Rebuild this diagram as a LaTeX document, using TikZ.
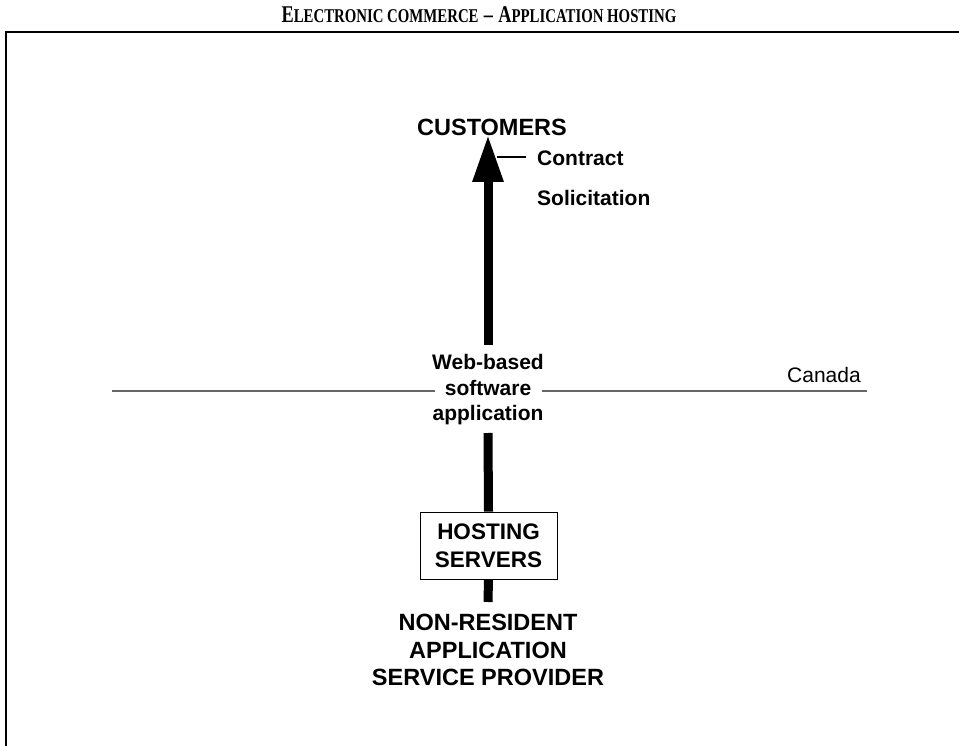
\documentclass[tikz,border=0pt]{standalone}
\usepackage{fontspec}
\usepackage{graphicx}
\setmainfont{Liberation Serif}
\setsansfont{Liberation Sans}
\usetikzlibrary{arrows.meta}
\newcommand{\tcapL}[1]{{\fontsize{24}{27}\selectfont #1}}
\newcommand{\tcapS}[1]{{\fontsize{19.5}{22}\selectfont #1}}
\tikzset{
  lbl/.style={font=\sffamily\bfseries\fontsize{21}{25.5}\selectfont, align=center, inner sep=0pt},
  biglbl/.style={font=\sffamily\bfseries\fontsize{23.5}{27.5}\selectfont, align=center, inner sep=0pt},
  shaft/.style={line width=9pt},
  border/.style={line width=1.4pt},
  country/.style={line width=1.2pt, draw=black!60},
}
\begin{document}
\begin{tikzpicture}[x=1pt,y=-1pt]
  \useasboundingbox (0,0) rectangle (959,746);

  % heading, set in condensed small capitals
  \node[font=\bfseries, inner sep=0pt] (title) at (479,15)
    {\scalebox{0.76}[1]{\tcapL{E}\tcapS{LECTRONIC COMMERCE}\hspace{7pt}\tcapL{–}\hspace{7pt}\tcapL{A}\tcapS{PPLICATION HOSTING}}};

  % page frame (top and left edges)
  \coordinate (frTL) at (6,32);
  \coordinate (frTR) at (959,32);
  \coordinate (frBL) at (6,746);
  \draw[border] (frTR) -- (frTL) -- (frBL);

  % nodes
  \node[biglbl] (cust) at (492,127) {CUSTOMERS};
  \node[lbl, anchor=west] (contract) at (537,158) {Contract};
  \node[lbl, anchor=west] (solic) at (537,198) {Solicitation};
  \node[lbl] (web) at (488,390) {Web-based\\software\\application};
  \node[draw, line width=0.9pt, minimum width=137pt, minimum height=67pt,
        font=\sffamily\bfseries\fontsize{22.5}{28}\selectfont, align=center, inner sep=0pt]
        (host) at (488.5,545.5) {HOSTING\\SERVERS};
  \node[biglbl] (nrasp) at (488,650) {NON-RESIDENT\\APPLICATION\\SERVICE PROVIDER};
  \node[font=\sffamily\fontsize{21}{25}\selectfont, anchor=west, inner sep=0pt]
        (canada) at (787,375) {Canada};

  % border line of the country
  \coordinate (bdL) at (112,391);
  \coordinate (bdWL) at (435,391);
  \coordinate (bdWR) at (542,391);
  \coordinate (bdR) at (867,391);
  \draw[country] (bdL) -- (bdWL);
  \draw[country] (bdWR) -- (bdR);

  % flow from provider up to customers
  \coordinate (upStart) at (488,345);
  \coordinate (upEnd) at (488,135);
  \draw[shaft, -{Triangle[length=47pt, width=29pt]}] (upStart) -- (upEnd);
  \coordinate (webBot) at (488,433);
  \draw[shaft] (webBot) -- (host.north);
  \coordinate (hostBot) at (488,602);
  \draw[shaft] (host.south) -- (hostBot);

  % leader to the label
  \coordinate (lead) at (497,157);
  \coordinate (leadEnd) at (526,157);
  \draw[line width=1.1pt] (lead) -- (leadEnd);
\end{tikzpicture}
\end{document}
